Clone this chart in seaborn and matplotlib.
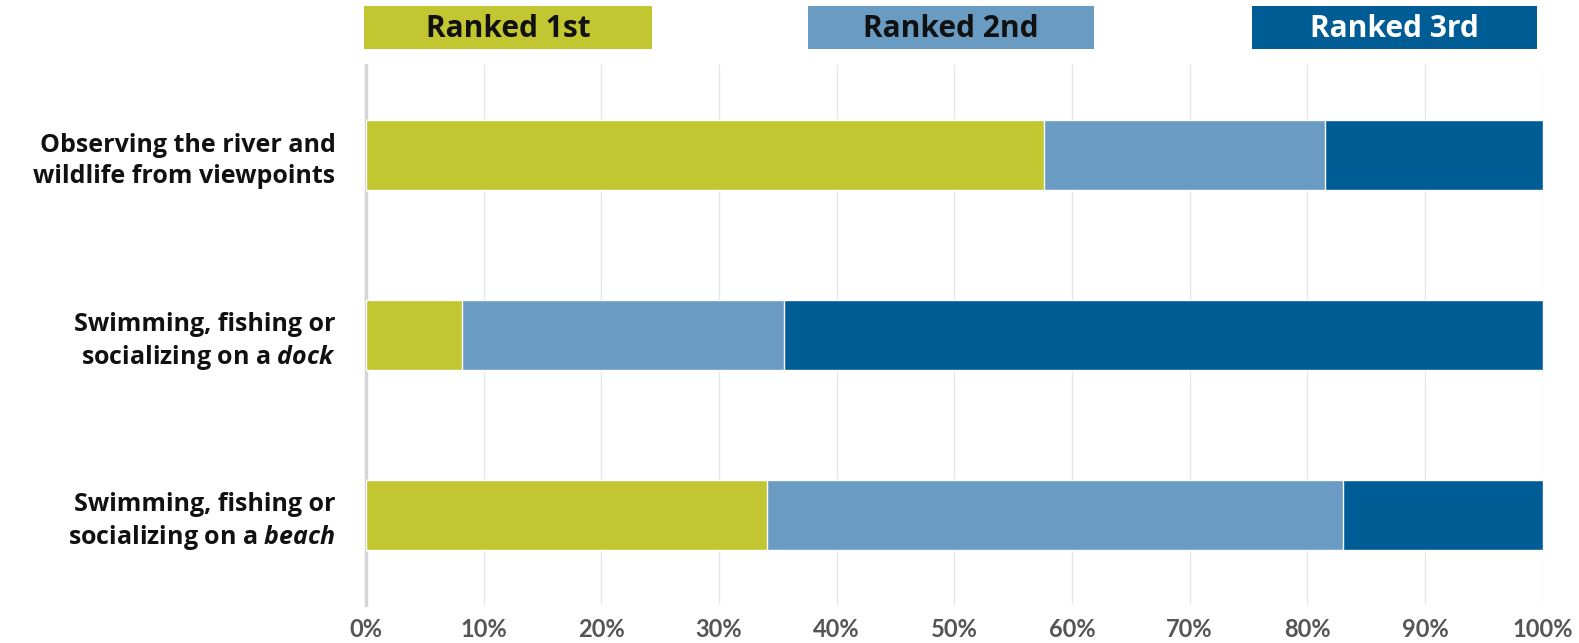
import matplotlib
matplotlib.use("Agg")
import numpy as np
import pandas as pd
import matplotlib.pyplot as plt
import seaborn as sns
from matplotlib.patches import Rectangle

#--> Data
categories = [
    "Observing the river and\nwildlife from viewpoints",
    "Swimming, fishing or\nsocializing on a $\\mathit{dock}$",
    "Swimming, fishing or\nsocializing on a $\\mathit{beach}$",
]
ranked_1st = [57.6, 8.2, 34.1]
ranked_2nd = [23.9, 27.3, 48.9]
ranked_3rd = [18.5, 64.5, 17.0]
series_names = ["Ranked 1st", "Ranked 2nd", "Ranked 3rd"]
x_ticks = list(range(0, 101, 10))
x_tick_labels = [f"{t}%" for t in x_ticks]

colors = ["#C1C631", "#6A9BC3", "#005C94"]
text_colors = ["#111111", "#111111", "#FFFFFF"]

df = pd.DataFrame({"cat": categories, "r1": ranked_1st, "r2": ranked_2nd, "r3": ranked_3rd})
df["c1"] = df["r1"]
df["c2"] = df["r1"] + df["r2"]
df["c3"] = df["c2"] + df["r3"]

sns.set_theme(style="white")
plt.rcParams["font.family"] = ["Open Sans", "DejaVu Sans"]
plt.rcParams["mathtext.fontset"] = "custom"
plt.rcParams["mathtext.rm"] = "Open Sans:bold"
plt.rcParams["mathtext.it"] = "Open Sans:italic:bold"

fig = plt.figure(figsize=(15.79, 6.43), dpi=100)
ax = fig.add_axes([0.2318, 0.059, 0.977 - 0.2318, 0.899 - 0.059])

#--> stacked bars: draw the cumulative totals, biggest first
for col, c in zip(["c3", "c2", "c1"], colors[::-1]):
    sns.barplot(data=df, x=col, y="cat", orient="h", color=c, width=0.39,
                saturation=1, ax=ax, zorder=3)

ax.set_xlim(0, 100)
ax.set_ylim(2.5, -0.5)
ax.set_xticks(x_ticks)
ax.set_xticklabels(x_tick_labels, color="#555555", fontsize=17, fontweight="bold",
                   family=["Lato", "DejaVu Sans"])
ax.tick_params(axis="x", length=0, pad=9)
ax.tick_params(axis="y", length=0, pad=22)
for lbl in ax.get_yticklabels():
    lbl.set_fontsize(18)
    lbl.set_fontweight("bold")
    lbl.set_color("#111111")
    lbl.set_ha("right")
    lbl.set_linespacing(1.3)
ax.set_xlabel("")
ax.set_ylabel("")
ax.xaxis.grid(True, color="#E6E6E6", linewidth=1)
ax.set_axisbelow(True)
for s in ["top", "right", "bottom"]:
    ax.spines[s].set_visible(False)
ax.spines["left"].set_color("#D5D5D5")
ax.spines["left"].set_linewidth(2.5)

#--> legend boxes across the top
W, H = 1579, 643
boxes = [(364, 652), (808, 1094), (1252, 1537)]
for (x0, x1), name, c, tc in zip(boxes, series_names, colors, text_colors):
    fig.patches.append(Rectangle((x0 / W, 1 - 49 / H), (x1 - x0) / W, 43 / H,
                                 transform=fig.transFigure, facecolor=c,
                                 edgecolor="none"))
    fig.text((x0 + x1) / 2 / W, 1 - 29 / H, name, ha="center", va="center",
             fontsize=21.5, fontweight="bold", color=tc)

fig.savefig("out.png", dpi=100)
